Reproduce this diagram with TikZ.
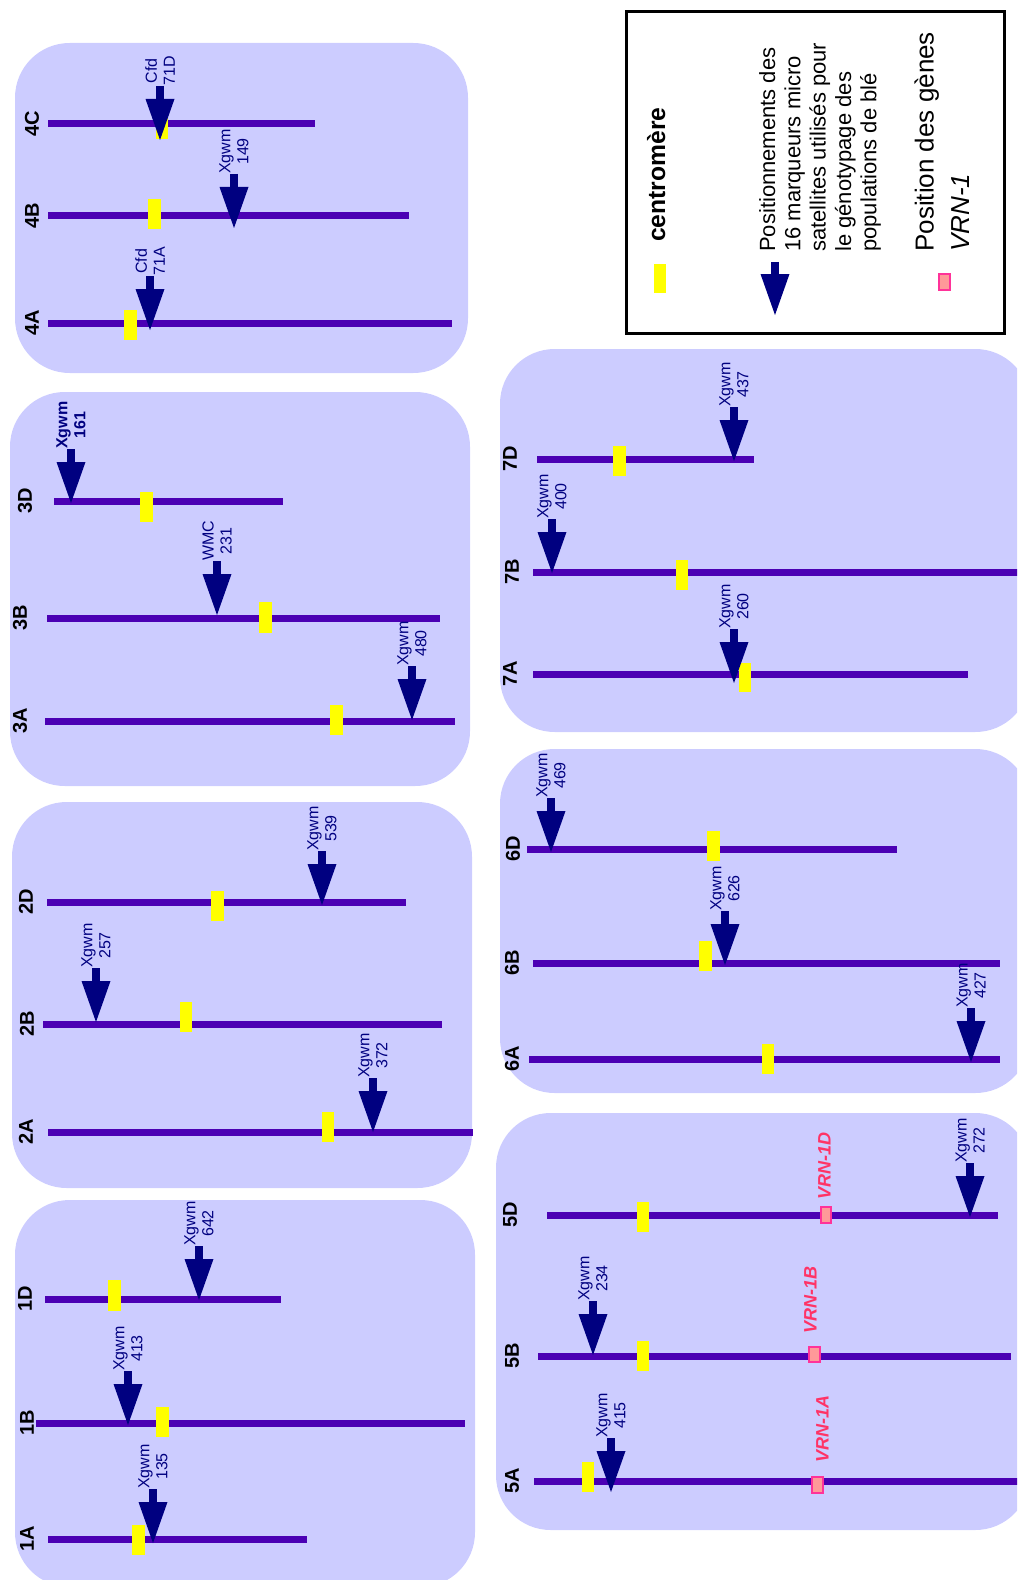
\documentclass[tikz,border=0pt]{standalone}
\usepackage{fontspec}
\setmainfont{Liberation Sans}
\usetikzlibrary{arrows.meta}

\begin{document}
\begin{tikzpicture}[x=0.75pt,y=0.75pt,yscale=-1,xscale=1,
  panel/.style={fill={rgb, 255:red, 204; green, 204; blue, 255 }, rounded corners=41pt},
  chrom/.style={draw={rgb, 255:red, 75; green, 0; blue, 180 }, line width=5.25pt},
  centro/.style={fill={rgb, 255:red, 255; green, 255; blue, 0 }},
  vrnbox/.style={fill={rgb, 255:red, 255; green, 153; blue, 153 }, draw={rgb, 255:red, 255; green, 51; blue, 153 }, line width=1.1pt},
  mkarrow/.style={draw={rgb, 255:red, 0; green, 0; blue, 128 }, line width=6pt, -{Triangle[width=21.75pt, length=30.75pt, line width=0pt]}},
  mklabel/.style={text={rgb, 255:red, 0; green, 0; blue, 128 }, rotate=90, anchor=west, inner sep=0pt, align=center, font=\fontsize{12}{13.5}\selectfont},
  chromlabel/.style={rotate=90, inner sep=0pt, font=\bfseries\fontsize{15}{18}\selectfont},
  vrnlabel/.style={text={rgb, 255:red, 255; green, 51; blue, 102 }, rotate=90, anchor=west, inner sep=0pt, font=\bfseries\itshape\fontsize{13.5}{16}\selectfont},
  legtext/.style={rotate=90, anchor=west, inner sep=0pt, align=left}
]
\useasboundingbox (0,0) rectangle (1017,1580);
\clip (0,0) rectangle (1017,1580);

%Rounded Rect
\fill [panel] (15,43) rectangle (468,373);
\fill [panel] (10,392) rectangle (470,786);
\fill [panel] (12,802) rectangle (472,1188);
\fill [panel] (15,1200) rectangle (475,1587);
\fill [panel] (500,349) rectangle (1030,732);
\fill [panel] (500,749) rectangle (1030,1093);
\fill [panel] (496,1113) rectangle (1030,1530);

%Shape: Rectangle
\draw [line width=2.25pt] (626,12) rectangle (1004,333);

%Straight Lines
\draw [chrom] (48,124) -- (315,124);
\draw [chrom] (48,216) -- (409,216);
\draw [chrom] (48,323) -- (452,323);
\draw [chrom] (54,501) -- (283,501);
\draw [chrom] (47,618) -- (440,618);
\draw [chrom] (45,721) -- (455,721);
\draw [chrom] (47,902) -- (406,902);
\draw [chrom] (43,1024) -- (442,1024);
\draw [chrom] (48,1132) -- (473,1132);
\draw [chrom] (45,1299) -- (281,1299);
\draw [chrom] (36,1423) -- (465,1423);
\draw [chrom] (48,1539) -- (307,1539);
\draw [chrom] (537,459) -- (754,459);
\draw [chrom] (533,572) -- (1030,572);
\draw [chrom] (533,674) -- (968,674);
\draw [chrom] (527,849) -- (897,849);
\draw [chrom] (533,963) -- (1000,963);
\draw [chrom] (529,1059) -- (1000,1059);
\draw [chrom] (547,1215) -- (998,1215);
\draw [chrom] (538,1356) -- (1011,1356);
\draw [chrom] (534,1481) -- (1030,1481);

%Shape: Rectangle
\fill [centro] (156,109) rectangle (168,139);
\fill [centro] (148,199) rectangle (161,229);
\fill [centro] (124,310) rectangle (137,340);
\fill [centro] (140,492) rectangle (153,522);
\fill [centro] (259,602) rectangle (272,633);
\fill [centro] (330,705) rectangle (343,735);
\fill [centro] (211,891) rectangle (224,921);
\fill [centro] (180,1002) rectangle (192,1032);
\fill [centro] (322,1112) rectangle (334,1142);
\fill [centro] (108,1280) rectangle (121,1311);
\fill [centro] (156,1407) rectangle (169,1437);
\fill [centro] (132,1525) rectangle (145,1555);
\fill [centro] (613,446) rectangle (626,476);
\fill [centro] (676,560) rectangle (688,590);
\fill [centro] (739,663) rectangle (751,692);
\fill [centro] (707,831) rectangle (720,861);
\fill [centro] (699,941) rectangle (712,971);
\fill [centro] (762,1044) rectangle (774,1074);
\fill [centro] (637,1202) rectangle (649,1232);
\fill [centro] (637,1341) rectangle (649,1371);
\fill [centro] (582,1462) rectangle (594,1492);

%Shape: Rectangle
\draw [vrnbox] (821,1207) rectangle (831,1223);
\draw [vrnbox] (809,1347) rectangle (820,1362);
\draw [vrnbox] (812,1477) rectangle (823,1493);

% Text Node
\draw (32,124) node [chromlabel] (n4C) {4C};
\draw (32,216) node [chromlabel] (n4B) {4B};
\draw (32,323) node [chromlabel] (n4A) {4A};
\draw (25,501) node [chromlabel] (n3D) {3D};
\draw (20,618) node [chromlabel] (n3B) {3B};
\draw (20,721) node [chromlabel] (n3A) {3A};
\draw (26,902) node [chromlabel] (n2D) {2D};
\draw (27,1024) node [chromlabel] (n2B) {2B};
\draw (26,1132) node [chromlabel] (n2A) {2A};
\draw (25,1299) node [chromlabel] (n1D) {1D};
\draw (27,1423) node [chromlabel] (n1B) {1B};
\draw (27,1539) node [chromlabel] (n1A) {1A};
\draw (510,459) node [chromlabel] (n7D) {7D};
\draw (512,572) node [chromlabel] (n7B) {7B};
\draw (510,674) node [chromlabel] (n7A) {7A};
\draw (513,849) node [chromlabel] (n6D) {6D};
\draw (512,963) node [chromlabel] (n6B) {6B};
\draw (512,1059) node [chromlabel] (n6A) {6A};
\draw (510,1215) node [chromlabel] (n5D) {5D};
\draw (512,1356) node [chromlabel] (n5B) {5B};
\draw (512,1481) node [chromlabel] (n5A) {5A};

% Text Node
\draw (824.5,1200) node [vrnlabel] (v5D) {VRN-1D};
\draw (810.5,1334) node [vrnlabel] (v5B) {VRN-1B};
\draw (822.5,1463) node [vrnlabel] (v5A) {VRN-1A};

%Markers
\coordinate (t4C) at (160,140);
\coordinate (t4B) at (234,228);
\coordinate (t4A) at (150,330);
\coordinate (t3D) at (71,503);
\coordinate (t3B) at (217,615);
\coordinate (t3A) at (412,720);
\coordinate (t2D) at (322,905);
\coordinate (t2B) at (96,1022);
\coordinate (t2A) at (373,1132);
\coordinate (t1D) at (199,1300);
\coordinate (t1B) at (128,1425);
\coordinate (t1A) at (153,1543);
\coordinate (t7D) at (734,461);
\coordinate (t7B) at (552,573);
\coordinate (t7A) at (734,683);
\coordinate (t6D) at (551,852);
\coordinate (t6B) at (725,965);
\coordinate (t6A) at (971,1062);
\coordinate (t5D) at (970,1217);
\coordinate (t5B) at (593,1355);
\coordinate (t5A) at (611,1492);

% Text Node
\draw (160,86) node [mklabel] (m4C) {Cfd\\71D};
\draw (234,174) node [mklabel] (m4B) {Xgwm\\149};
\draw (150,276) node [mklabel] (m4A) {Cfd\\71A};
\draw (71,449) node [mklabel, font=\bfseries\fontsize{12}{13.5}\selectfont] (m3D) {Xgwm\\161};
\draw (217,561) node [mklabel] (m3B) {WMC\\231};
\draw (412,666) node [mklabel] (m3A) {Xgwm\\480};
\draw (322,851) node [mklabel] (m2D) {Xgwm\\539};
\draw (96,968) node [mklabel] (m2B) {Xgwm\\257};
\draw (373,1078) node [mklabel] (m2A) {Xgwm\\372};
\draw (199,1246) node [mklabel] (m1D) {Xgwm\\642};
\draw (128,1371) node [mklabel] (m1B) {Xgwm\\413};
\draw (153,1489) node [mklabel] (m1A) {Xgwm\\135};
\draw (734,407) node [mklabel] (m7D) {Xgwm\\437};
\draw (552,519) node [mklabel] (m7B) {Xgwm\\400};
\draw (734,629) node [mklabel] (m7A) {Xgwm\\260};
\draw (551,798) node [mklabel] (m6D) {Xgwm\\469};
\draw (725,911) node [mklabel] (m6B) {Xgwm\\626};
\draw (971,1008) node [mklabel] (m6A) {Xgwm\\427};
\draw (970,1163) node [mklabel] (m5D) {Xgwm\\272};
\draw (593,1301) node [mklabel] (m5B) {Xgwm\\234};
\draw (611,1438) node [mklabel] (m5A) {Xgwm\\415};

%Straight Lines
\draw [mkarrow] (m4C.west) -- (t4C);
\draw [mkarrow] (m4B.west) -- (t4B);
\draw [mkarrow] (m4A.west) -- (t4A);
\draw [mkarrow] (m3D.west) -- (t3D);
\draw [mkarrow] (m3B.west) -- (t3B);
\draw [mkarrow] (m3A.west) -- (t3A);
\draw [mkarrow] (m2D.west) -- (t2D);
\draw [mkarrow] (m2B.west) -- (t2B);
\draw [mkarrow] (m2A.west) -- (t2A);
\draw [mkarrow] (m1D.west) -- (t1D);
\draw [mkarrow] (m1B.west) -- (t1B);
\draw [mkarrow] (m1A.west) -- (t1A);
\draw [mkarrow] (m7D.west) -- (t7D);
\draw [mkarrow] (m7B.west) -- (t7B);
\draw [mkarrow] (m7A.west) -- (t7A);
\draw [mkarrow] (m6D.west) -- (t6D);
\draw [mkarrow] (m6B.west) -- (t6B);
\draw [mkarrow] (m6A.west) -- (t6A);
\draw [mkarrow] (m5D.west) -- (t5D);
\draw [mkarrow] (m5B.west) -- (t5B);
\draw [mkarrow] (m5A.west) -- (t5A);

%Legend
\fill [centro] (654,264) rectangle (666,293);
\draw (665,242) node [legtext, anchor=base west, font=\bfseries\fontsize{18.5}{22}\selectfont] (lgc) {centromère};
\coordinate (lgtop) at (775,262);
\coordinate (lgtip) at (775,315);
\draw [mkarrow] (lgtop) -- (lgtip);
\draw (820,252) node [legtext, font=\fontsize{16.5}{19}\selectfont] (lgm) {Positionnements des\\16 marqueurs micro\\satellites utilisés pour\\le génotypage des\\populations de blé};
\draw [vrnbox] (939,274) rectangle (950,290);
\draw (942,252) node [legtext, font=\fontsize{19.5}{27}\selectfont] (lgv) {Position des gènes\\\textit{VRN-1}};

\end{tikzpicture}
\end{document}
